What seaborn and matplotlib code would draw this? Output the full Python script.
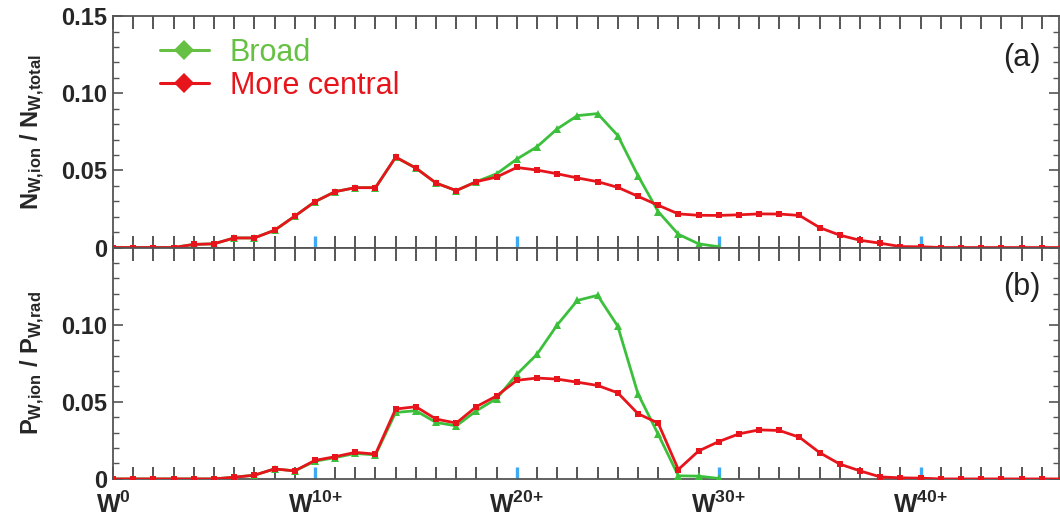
import numpy as np
import pandas as pd
import matplotlib
matplotlib.use("Agg")
import matplotlib.pyplot as plt
from matplotlib.ticker import MultipleLocator, FuncFormatter
from matplotlib.lines import Line2D
import seaborn as sns

# ---------------- data ----------------
ion_stage = list(range(48))
tick_stages = [0, 10, 20, 30, 40]
tick_texts = [r"$\mathbf{W^{0}}$", r"$\mathbf{W^{10{+}}}$",
              r"$\mathbf{W^{20{+}}}$", r"$\mathbf{W^{30{+}}}$",
              r"$\mathbf{W^{40{+}}}$"]

central_a = [0, 0, 0, 0, 0.002, 0.0024, 0.0062, 0.0062, 0.0112, 0.0203,
             0.0297, 0.0362, 0.0388, 0.0388, 0.0586, 0.0515, 0.0418, 0.0369, 0.0427, 0.0457,
             0.0519, 0.0502, 0.0478, 0.0451, 0.0427, 0.039, 0.0332, 0.0274, 0.0218, 0.0209,
             0.0208, 0.0212, 0.0218, 0.0217, 0.0208, 0.0129, 0.008, 0.0047, 0.0028, 0.0006,
             0.0005, 0, 0, 0, 0, 0, 0, 0]
broad_a = [0, 0, 0, 0, 0.002, 0.0024, 0.0062, 0.0062, 0.0112, 0.0203,
           0.0297, 0.0362, 0.0388, 0.0388, 0.0586, 0.0515, 0.0418, 0.0369, 0.0427, 0.0478,
           0.0573, 0.0653, 0.0769, 0.0855, 0.0868, 0.0726, 0.0466, 0.0233, 0.0086, 0.0024,
           0.0005]

central_b = [0, 0, 0, 0, 0, 0, 0.0011, 0.0024, 0.0065, 0.0052,
             0.012, 0.0144, 0.0172, 0.0161, 0.0453, 0.0468, 0.0388, 0.0362, 0.0469, 0.0538,
             0.0639, 0.0654, 0.0647, 0.0627, 0.0606, 0.0558, 0.0423, 0.0362, 0.0061, 0.0181,
             0.0242, 0.0292, 0.0318, 0.0314, 0.027, 0.017, 0.0096, 0.0052, 0.0013, 0.0007,
             0.0005, 0, 0, 0, 0, 0, 0, 0]
broad_b = [0, 0, 0, 0, 0, 0, 0.0011, 0.0024, 0.0065, 0.0052,
           0.0115, 0.0138, 0.0165, 0.0156, 0.0431, 0.0442, 0.0366, 0.0344, 0.0442, 0.0521,
           0.0678, 0.0808, 0.0998, 0.1157, 0.119, 0.099, 0.0552, 0.029, 0.002, 0.0018,
           0.0003]

series_names = ["Broad", "More central"]
panel_tags = ["(a)", "(b)"]
ylabels = [r"$\mathbf{N_{W{,}ion}\ /\ N_{W{,}total}}$", r"$\mathbf{P_{W{,}ion}\ /\ P_{W{,}rad}}$"]

# ---------------- style ----------------
sns.set_style("ticks")
plt.rcParams["font.family"] = ["Liberation Sans", "DejaVu Sans"]
plt.rcParams["mathtext.fontset"] = "custom"
plt.rcParams["mathtext.rm"] = "Liberation Sans"
plt.rcParams["mathtext.bf"] = "Liberation Sans:bold"
plt.rcParams["mathtext.it"] = "Liberation Sans:italic"

green = "#3cc03c"
green_txt = "#66c043"
red = "#e8141c"
axis_col = "#555555"
blue = "#3fa9f5"

fig, axes = plt.subplots(2, 1, figsize=(10.6, 5.2), dpi=100, sharex=True)
fig.subplots_adjust(left=0.1066, right=0.999, top=0.969, bottom=0.079, hspace=0)

panels = [(broad_a, central_a), (broad_b, central_b)]
for i, (ax, (b, c)) in enumerate(zip(axes, panels)):
    dfb = pd.DataFrame({"stage": ion_stage[:len(b)], "val": b})
    dfc = pd.DataFrame({"stage": ion_stage[:len(c)], "val": c})
    sns.lineplot(data=dfb, x="stage", y="val", ax=ax, color=green, lw=2.0,
                 marker="^", markersize=5.5, markeredgewidth=0, zorder=3)
    sns.lineplot(data=dfc, x="stage", y="val", ax=ax, color=red, lw=2.0,
                 marker="s", markersize=5, markeredgewidth=0, zorder=4)
    ax.set_xlim(0, 46.85)
    ax.set_ylim(0, 0.15)
    ax.set_xlabel("")
    ax.set_ylabel(ylabels[i], fontsize=17)
    ax.yaxis.set_label_coords(-0.07, 0.5)

    ax.xaxis.set_major_locator(MultipleLocator(1))
    ax.yaxis.set_major_locator(MultipleLocator(0.05))
    ax.yaxis.set_minor_locator(MultipleLocator(0.01))
    ax.tick_params(axis="x", which="major", direction="in", length=9, width=1.4,
                   color=axis_col, top=True, bottom=True, pad=9)
    ax.tick_params(axis="y", which="major", direction="in", length=7, width=1.2,
                   color=axis_col, left=True, right=True, labelsize=17, pad=4)
    ax.tick_params(axis="y", which="minor", direction="in", length=4, width=1.0,
                   color=axis_col, left=True, right=True)

    def yfmt(v, pos, hide_top=(i == 1)):
        if abs(v) < 1e-9:
            return "0"
        if hide_top and v > 0.14:
            return ""
        return f"{v:.2f}"
    ax.yaxis.set_major_formatter(FuncFormatter(yfmt))
    for lab in ax.get_yticklabels():
        lab.set_fontweight("bold")

    for sp in ax.spines.values():
        sp.set_color(axis_col)
        sp.set_linewidth(1.3)

    ax.text(0.981, 0.82 if i == 0 else 0.83, panel_tags[i], transform=ax.transAxes,
            ha="right", va="center", fontsize=22, color="#222222")

# x tick labels on bottom panel only
def xfmt(v, pos):
    iv = int(round(v))
    if iv in tick_stages:
        return tick_texts[tick_stages.index(iv)]
    return ""
axes[1].xaxis.set_major_formatter(FuncFormatter(xfmt))
axes[1].tick_params(axis="x", labelsize=18)
axes[0].tick_params(axis="x", labelbottom=False)

fig.canvas.draw()
for ax in axes:
    for t in ax.xaxis.get_major_ticks():
        if int(round(t.get_loc())) in tick_stages[1:]:
            t.tick1line.set_markeredgecolor(blue)
            t.tick1line.set_markeredgewidth(2.4)

# legend
handles = [Line2D([0], [0], color=green_txt, lw=2.2, marker="D", markersize=10, markeredgewidth=0),
           Line2D([0], [0], color=red, lw=2.2, marker="D", markersize=10, markeredgewidth=0)]
leg = axes[0].legend(handles, series_names, loc="upper left", bbox_to_anchor=(0.03, 0.985),
                     frameon=False, fontsize=22, handlelength=1.6, handletextpad=0.7,
                     labelspacing=0.1, borderaxespad=0.2)
for txt, col in zip(leg.get_texts(), [green_txt, red]):
    txt.set_color(col)

fig.savefig("out.png", dpi=100)
